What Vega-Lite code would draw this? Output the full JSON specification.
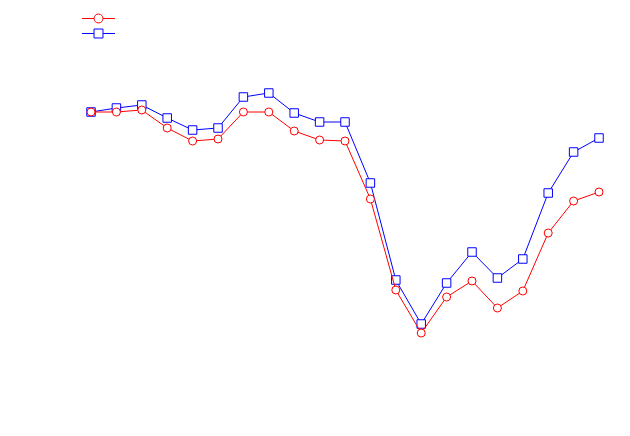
{
  "$schema": "https://vega.github.io/schema/vega-lite/v6.json",
  "autosize": {"type": "fit", "contains": "padding"},
  "width": 630,
  "height": 436,
  "padding": 0,
  "background": "white",
  "config": {"view": {"stroke": null}},
  "data": {"values": [
    {"i": 0, "series": "s1", "v": 288}, {"i": 1, "series": "s1", "v": 288}, {"i": 2, "series": "s1", "v": 290},
    {"i": 3, "series": "s1", "v": 272}, {"i": 4, "series": "s1", "v": 259}, {"i": 5, "series": "s1", "v": 261},
    {"i": 6, "series": "s1", "v": 288}, {"i": 7, "series": "s1", "v": 288}, {"i": 8, "series": "s1", "v": 269},
    {"i": 9, "series": "s1", "v": 260}, {"i": 10, "series": "s1", "v": 259}, {"i": 11, "series": "s1", "v": 201},
    {"i": 12, "series": "s1", "v": 110}, {"i": 13, "series": "s1", "v": 67}, {"i": 14, "series": "s1", "v": 103},
    {"i": 15, "series": "s1", "v": 119}, {"i": 16, "series": "s1", "v": 92}, {"i": 17, "series": "s1", "v": 109},
    {"i": 18, "series": "s1", "v": 167}, {"i": 19, "series": "s1", "v": 199}, {"i": 20, "series": "s1", "v": 208},
    {"i": 0, "series": "s2", "v": 288}, {"i": 1, "series": "s2", "v": 292}, {"i": 2, "series": "s2", "v": 295},
    {"i": 3, "series": "s2", "v": 282}, {"i": 4, "series": "s2", "v": 270}, {"i": 5, "series": "s2", "v": 272},
    {"i": 6, "series": "s2", "v": 303}, {"i": 7, "series": "s2", "v": 307}, {"i": 8, "series": "s2", "v": 287},
    {"i": 9, "series": "s2", "v": 278}, {"i": 10, "series": "s2", "v": 278}, {"i": 11, "series": "s2", "v": 217},
    {"i": 12, "series": "s2", "v": 120}, {"i": 13, "series": "s2", "v": 76}, {"i": 14, "series": "s2", "v": 117},
    {"i": 15, "series": "s2", "v": 148}, {"i": 16, "series": "s2", "v": 122}, {"i": 17, "series": "s2", "v": 141},
    {"i": 18, "series": "s2", "v": 207}, {"i": 19, "series": "s2", "v": 248}, {"i": 20, "series": "s2", "v": 262}
  ]},
  "encoding": {
    "x": {"field": "i", "type": "quantitative", "scale": {"domain": [-3.583, 21.22], "nice": false, "zero": false}, "axis": null},
    "y": {"field": "v", "type": "quantitative", "scale": {"domain": [-36, 400], "nice": false, "zero": false}, "axis": null},
    "color": {
      "field": "series", "type": "nominal",
      "scale": {"domain": ["s1", "s2"], "range": ["#ff0000", "#0000ff"]},
      "legend": {
        "orient": "none", "legendX": 90, "legendY": 10, "padding": 0,
        "title": null, "labelExpr": "''", "rowPadding": 0,
        "symbolSize": 256, "symbolStrokeWidth": 1, "symbolFillColor": "white",
        "encode": {"symbols": {"update": {
          "shape": {"signal": "datum.value === 's1' ? 'M-2.06,0H-0.56M0.56,0H2.06M-0.56,0A0.56,0.56 0 1,1 0.56,0A0.56,0.56 0 1,1 -0.56,0' : 'M-2.06,0H-0.56M0.56,0H2.06M-0.56,-0.56H0.56V0.56H-0.56Z'"},
          "fill": {"value": "white"},
          "strokeWidth": {"value": 1}
        }}}
      }
    }
  },
  "layer": [
    {"transform": [{"filter": "datum.series === 's2'"}], "mark": {"type": "line", "strokeWidth": 1}},
    {"transform": [{"filter": "datum.series === 's2'"}], "mark": {"type": "point", "shape": "square", "size": 72, "filled": false, "fill": "white", "fillOpacity": 1, "strokeWidth": 1, "opacity": 1}},
    {"transform": [{"filter": "datum.series === 's1'"}], "mark": {"type": "line", "strokeWidth": 1}},
    {"transform": [{"filter": "datum.series === 's1'"}], "mark": {"type": "point", "shape": "circle", "size": 64, "filled": false, "fill": "white", "fillOpacity": 1, "strokeWidth": 1, "opacity": 1}}
  ]
}
